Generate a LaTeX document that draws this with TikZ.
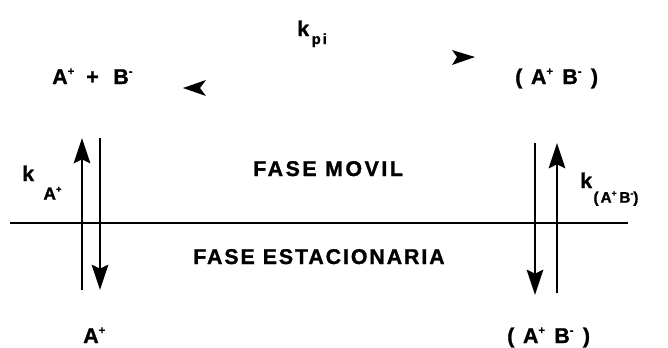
\documentclass[tikz,border=0pt]{standalone}
\usepackage{fontspec}
\setmainfont{Liberation Sans}
\usetikzlibrary{arrows.meta}
\newcommand\sups[2][8.5]{\raisebox{0.42em}{\fontsize{#1}{#1}\selectfont #2}}
\begin{document}
\begin{tikzpicture}[x=0.75pt,y=-0.75pt,
  lbl/.style={inner sep=0pt, font=\bfseries\fontsize{16}{19}\selectfont\addfontfeatures{FakeBold=1.2}},
  fase/.style={inner sep=0pt, font=\bfseries\fontsize{16}{19}\selectfont\addfontfeatures{LetterSpace=12,FakeBold=1.2}},
  fasetwo/.style={inner sep=0pt, font=\bfseries\fontsize{16}{19}\selectfont\addfontfeatures{LetterSpace=9,FakeBold=1.2}},
  flow/.style={line width=1.1pt, -{Stealth[length=19pt,width=12.5pt,inset=3pt]}},
  sep/.style={line width=1.3pt},
  head/.style={fill=black}]
\useasboundingbox (0,0) rectangle (668,347);

% top labels
\node[lbl, anchor=base west] (ab) at (52,84)
  {A\sups{+}\hspace{9pt}+\hspace{11pt}B\sups{-}};
\node[lbl, anchor=base west] (cplx) at (515,84)
  {(\hspace{6.5pt}A\sups{+}\hspace{7pt}B\sups{-}\hspace{7pt})};
\node[lbl, anchor=base west] (kpi) at (297,36)
  {k\hspace{2pt}\raisebox{-6pt}{\fontsize{11}{11}\selectfont p\hspace{1.5pt}i}};

% arrowheads of the equilibrium
\fill[head] (183,88) -- (206,80) -- (200,88) -- (206,96) -- cycle;
\fill[head] (475,57) -- (452,50) -- (457,57) -- (452,65) -- cycle;

% phase labels
\node[fase, anchor=base west] (movil) at (253,176) {FASE MOVIL};
\node[fasetwo, anchor=base west] (estac) at (193,264) {FASE\hspace{6pt}ESTACIONARIA};

% interface
\coordinate (lineL) at (10,223);
\coordinate (lineR) at (628,223);
\draw[sep] (lineL) -- (lineR);

% left pair of arrows
\coordinate (lu0) at (82,290);
\coordinate (lu1) at (82,138);
\coordinate (ld0) at (100,138);
\coordinate (ld1) at (100,290);
\draw[flow] (lu0) -- (lu1);
\draw[flow] (ld0) -- (ld1);

% right pair of arrows
\coordinate (rd0) at (535,143);
\coordinate (rd1) at (535,295);
\coordinate (ru0) at (557,293);
\coordinate (ru1) at (557,143);
\draw[flow] (rd0) -- (rd1);
\draw[flow] (ru0) -- (ru1);

% rate constants
\node[lbl, anchor=base west] (kA) at (22,181)
  {k\hspace{7pt}\raisebox{-14pt}{\fontsize{13}{13}\selectfont A\sups[7]{+}}};
\node[lbl, anchor=base west] (kAB) at (580,188)
  {k\hspace{1pt}\raisebox{-11pt}{\fontsize{11.5}{11.5}\selectfont (\hspace{1.5pt}A\sups[6.5]{+}\hspace{2pt}B\sups[6.5]{-})}};

% bottom labels
\node[lbl, anchor=base west] (Abot) at (83,343) {A\sups{+}};
\node[lbl, anchor=base west] (cplxbot) at (507,343)
  {(\hspace{6.5pt}A\sups{+}\hspace{7pt}B\sups{-}\hspace{7pt})};
\end{tikzpicture}
\end{document}
